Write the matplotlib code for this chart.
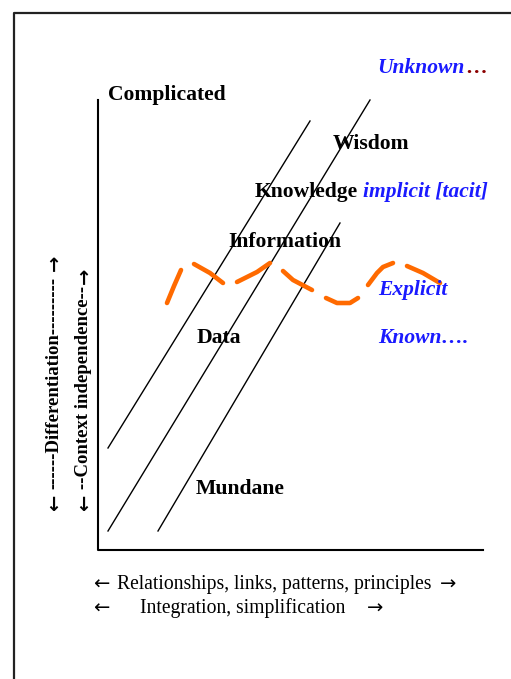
import matplotlib.pyplot as plt

# diagram drawn in pixel-like coordinates (x to the right, y downwards)
W, H = 511, 679

# diagonal lines: (x0, y0, x1, y1)
diag_lines = [
    (108, 448, 310, 121),
    (108, 531, 370, 100),
    (158, 531, 340, 223),
]

# hand drawn orange boundary between explicit and tacit, one list per stroke
wave_strokes = [
    [(167, 303), (174, 286), (181, 270)],
    [(194, 264), (210, 273), (223, 283)],
    [(237, 282), (257, 272), (270, 263)],
    [(283, 271), (293, 280), (312, 290)],
    [(326, 298), (337, 303), (350, 303), (358, 298)],
    [(368, 285), (377, 273), (383, 267), (393, 263)],
    [(407, 266), (423, 273), (440, 283)],
]

# black bold labels: (text, left x, centre y)
labels = [
    ("Complicated", 108, 95),
    ("Wisdom", 333, 144),
    ("Knowledge", 255, 192),
    ("Information", 228, 242),
    ("Data", 197, 338),
    ("Mundane", 196, 489),
]

# blue italic labels
blue_labels = [
    ("implicit [tacit]", 363, 192),
    ("Explicit", 378, 290),
    ("Known\u2026.", 378, 338),
]

# rotated captions: (text, centre x, centre y, arrow bottom y, arrow top y)
v_captions = [
    ("------Differentiation---------", 54, 383, 503, 263),
    ("--Context independence--", 84, 387, 503, 276),
]

# bottom captions: (text, left x, centre y, left arrow x, right arrow x)
h_captions = [
    ("Relationships, links, patterns, principles", 117, 584, 101, 448),
    ("Integration, simplification", 140, 608, 101, 375),
]

serif = ["Liberation Serif", "DejaVu Serif"]

fig = plt.figure(figsize=(W / 100, H / 100), dpi=100)
ax = fig.add_axes([0, 0, 1, 1])
ax.set_xlim(0, W)
ax.set_ylim(H, 0)
ax.axis("off")

# outer frame (only left and top edges are inside the picture)
ax.plot([14, 14, W], [H, 12.5, 12.5], color="#222222", lw=1.6, solid_capstyle="butt")

# axes of the diagram
ax.plot([98, 98, 483], [100, 550, 550], color="black", lw=1.5)

for x0, y0, x1, y1 in diag_lines:
    ax.plot([x0, x1], [y0, y1], color="black", lw=1.0)

for stroke in wave_strokes:
    xs = [p[0] for p in stroke]
    ys = [p[1] for p in stroke]
    ax.plot(xs, ys, color="#ff6a00", lw=3.3, solid_capstyle="round")

for txt, x, y in labels:
    ax.text(x, y, txt, fontsize=15.6, fontweight="bold", family=serif,
            ha="left", va="center", color="black")

for txt, x, y in blue_labels:
    ax.text(x, y, txt, fontsize=15.5, fontweight="bold", style="italic",
            family=serif, ha="left", va="center", color="#1a1aff")

# "Unknown" in blue followed by dark red dots
t = ax.text(377, 68, "Unknown", fontsize=15.5, fontweight="bold", style="italic",
            family=serif, ha="left", va="center", color="#1a1aff")
fig.canvas.draw()
bb = t.get_window_extent(renderer=fig.canvas.get_renderer())
x_end = ax.transData.inverted().transform((bb.x1, bb.y0))[0]
ax.text(x_end + 1, 68, "\u2026", fontsize=15.5, fontweight="bold",
        family=serif, ha="left", va="center", color="#8b0000")

# vertical axis captions
for txt, x, y, yb, yt in v_captions:
    ax.text(x, y, txt, rotation=90, fontsize=13.5, fontweight="bold",
            family=serif, ha="center", va="center")
    ax.text(x, yb, "\u2190", rotation=90, fontsize=14, fontweight="bold",
            family="DejaVu Sans", ha="center", va="center")
    ax.text(x, yt, "\u2192", rotation=90, fontsize=14, fontweight="bold",
            family="DejaVu Sans", ha="center", va="center")

# horizontal axis captions
for txt, x, y, xl, xr in h_captions:
    ax.text(x, y, txt, fontsize=14.1, family=serif, ha="left", va="center")
    ax.text(xl, y, "\u2190", fontsize=14, family="DejaVu Sans",
            ha="center", va="center")
    ax.text(xr, y, "\u2192", fontsize=14, family="DejaVu Sans",
            ha="center", va="center")

fig.savefig("out.png", dpi=100, facecolor="white")
